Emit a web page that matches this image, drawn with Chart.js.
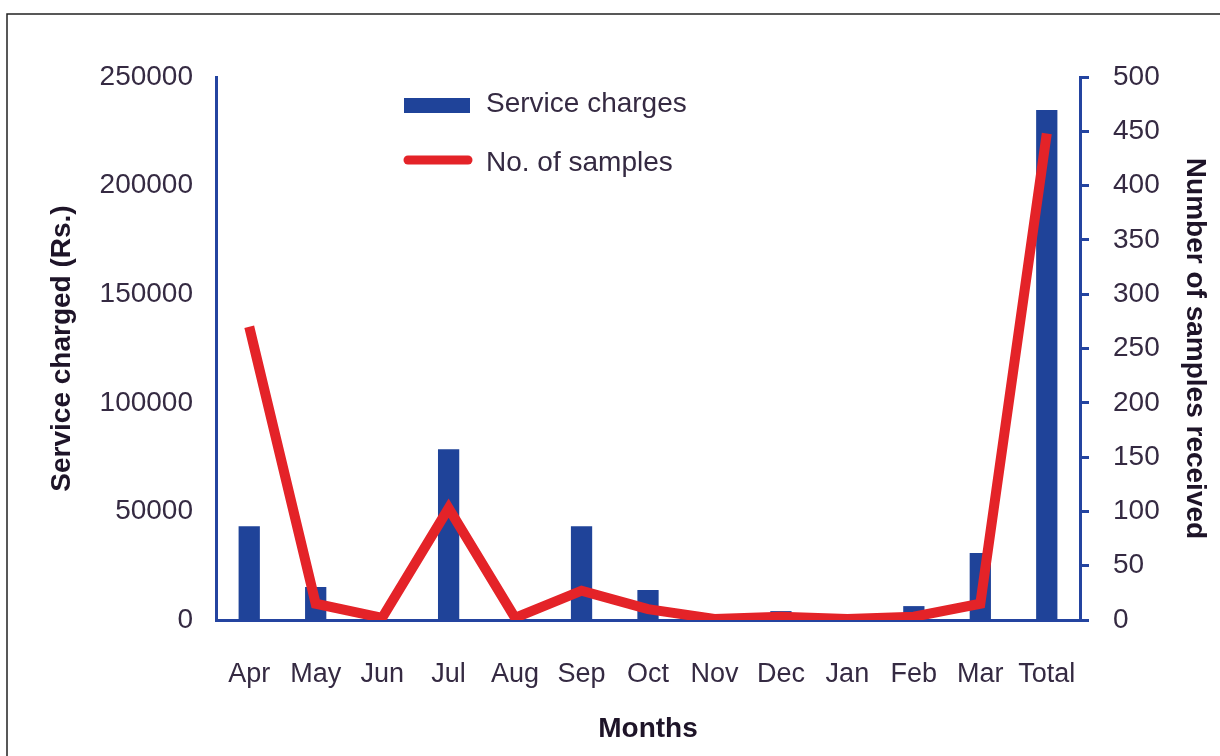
<!DOCTYPE html>
<html>
<head>
<meta charset="utf-8">
<script src="https://cdn.jsdelivr.net/npm/chart.js@4"></script>
<style>
  html, body { margin: 0; padding: 0; background: #fff; }
  #wrap { position: relative; width: 1220px; height: 756px; }
</style>
</head>
<body>
<div id="wrap"><canvas id="chart" width="1220" height="756"></canvas></div>
<script>
const months = ["Apr", "May", "Jun", "Jul", "Aug", "Sep", "Oct", "Nov", "Dec", "Jan", "Feb", "Mar", "Total"];
const serviceCharges = [43200, 15200, 0, 78600, 0, 43200, 13800, 500, 4100, 300, 6400, 30800, 234800];
const samplesReceived = [270, 15, 2, 103, 2, 27, 10, 1, 3, 1, 3, 15, 448];

const blue = "#1f4399";
const axisBlue = "#2444a0";
const red = "#e42328";
const textColor = "#352a42";
const titleColor = "#1e1428";
const fontFamily = "'Liberation Sans', Arial, sans-serif";

// frame lines + custom legend drawn on the canvas
const decorations = {
  id: "decorations",
  afterDraw(chart) {
    const ctx = chart.ctx;
    ctx.save();
    ctx.strokeStyle = "#222";
    ctx.lineWidth = 1.5;
    ctx.beginPath();
    ctx.moveTo(7, 756);
    ctx.lineTo(7, 14);
    ctx.lineTo(1220, 14);
    ctx.stroke();

    const bars = chart.data.datasets[1];
    const line = chart.data.datasets[0];
    ctx.fillStyle = bars.backgroundColor;
    ctx.fillRect(404, 98, 66, 15);
    ctx.strokeStyle = line.borderColor;
    ctx.lineWidth = 9;
    ctx.lineCap = "round";
    ctx.beginPath();
    ctx.moveTo(408, 160);
    ctx.lineTo(468, 160);
    ctx.stroke();

    ctx.fillStyle = textColor;
    ctx.font = "28px " + fontFamily;
    ctx.textBaseline = "middle";
    ctx.fillText(bars.label, 486, 104);
    ctx.fillText(line.label, 486, 163);
    ctx.restore();
  }
};

new Chart(document.getElementById("chart"), {
  data: {
    labels: months,
    datasets: [
      {
        type: "line",
        label: "No. of samples",
        data: samplesReceived,
        yAxisID: "y2",
        borderColor: red,
        backgroundColor: red,
        borderWidth: 10,
        borderJoinStyle: "miter",
        pointRadius: 0,
        tension: 0,
        order: 0
      },
      {
        type: "bar",
        label: "Service charges",
        data: serviceCharges,
        yAxisID: "y",
        backgroundColor: blue,
        categoryPercentage: 1,
        barPercentage: 0.32,
        order: 1
      }
    ]
  },
  options: {
    responsive: false,
    animation: false,
    layout: { padding: { left: 41, right: 4, top: 77, bottom: 6 } },
    plugins: { legend: { display: false }, tooltip: { enabled: false } },
    scales: {
      x: {
        grid: { display: false },
        border: { color: axisBlue, width: 3 },
        ticks: {
          color: textColor,
          padding: 30,
          font: { family: fontFamily, size: 27 }
        },
        title: {
          display: true,
          text: "Months",
          color: titleColor,
          font: { family: fontFamily, size: 28, weight: "bold" }
        },
        afterFit(scale) { scale.height = 130; }
      },
      y: {
        position: "left",
        min: 0,
        max: 250000,
        grid: { display: false },
        border: { color: axisBlue, width: 3 },
        ticks: {
          stepSize: 50000,
          color: textColor,
          padding: 15,
          font: { family: fontFamily, size: 28 },
          callback: (v) => String(v)
        },
        title: {
          display: true,
          text: "Service charged (Rs.)",
          color: titleColor,
          font: { family: fontFamily, size: 28, weight: "bold" }
        },
        afterFit(scale) { scale.width = 175; }
      },
      y2: {
        position: "right",
        min: 0,
        max: 500,
        grid: {
          display: true,
          drawOnChartArea: false,
          drawTicks: true,
          tickLength: 9,
          color: axisBlue,
          lineWidth: 3
        },
        border: { color: axisBlue, width: 3 },
        ticks: {
          stepSize: 50,
          color: textColor,
          padding: 24,
          font: { family: fontFamily, size: 28 },
          callback: (v) => String(v)
        },
        title: {
          display: true,
          text: "Number of samples received",
          color: titleColor,
          font: { family: fontFamily, size: 28, weight: "bold" }
        },
        afterFit(scale) { scale.width = 136; }
      }
    }
  },
  plugins: [decorations]
});
</script>
</body>
</html>
